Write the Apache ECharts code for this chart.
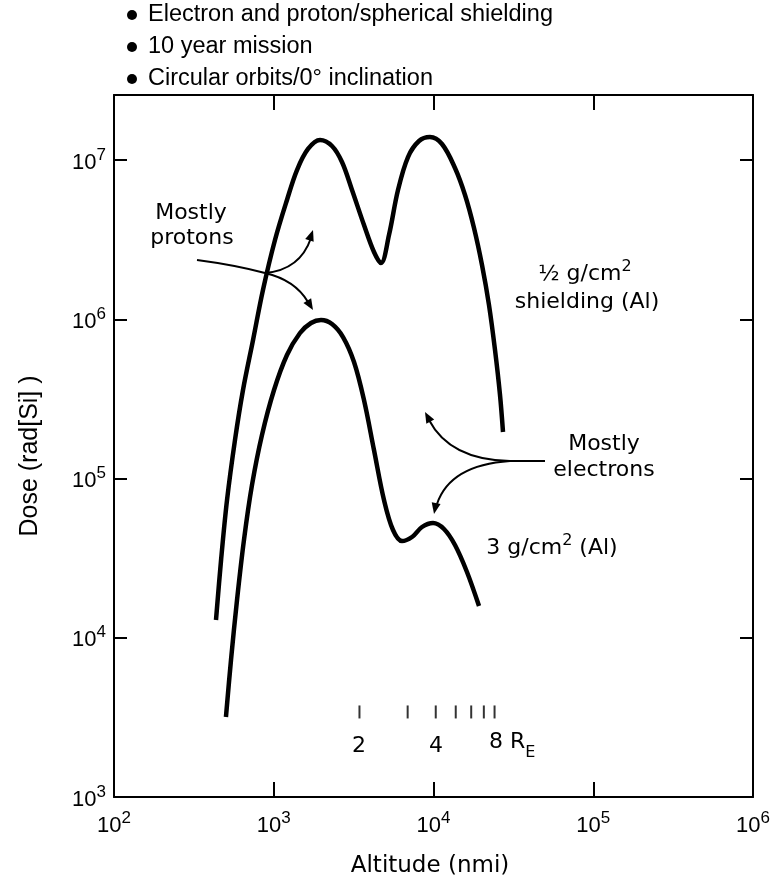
<!DOCTYPE html>
<html>
<head>
<meta charset="utf-8">
<script src="https://cdn.jsdelivr.net/npm/echarts@6/dist/echarts.min.js"></script>
<style>
html,body{margin:0;padding:0;background:#fff;}
#chart{width:777px;height:887px;}
</style>
</head>
<body>
<div id="chart"></div>
<script>
// ---- data (altitude in nmi, dose in rad[Si]) ----
const altUpper = [435, 468, 510, 572, 642, 742, 856, 1018, 1210, 1398, 1639, 1948, 2315, 2674, 3090, 3672, 4241, 4692, 5265, 5995, 6925, 8115, 9506, 11300, 13630, 15750, 17930, 20120, 22250, 24270, 26080, 27230];
const doseUpper = [12930, 30770, 73280, 174500, 359500, 740800, 1.527e6, 3.145e6, 5.61e6, 8.65e6, 1.173e7, 1.336e7, 1.224e7, 9.71e6, 6.48e6, 3.907e6, 2.645e6, 2.255e6, 3.38e6, 6.48e6, 1.044e7, 1.316e7, 1.394e7, 1.26e7, 8.91e6, 6.03e6, 3.74e6, 2.19e6, 1.229e6, 641000, 334500, 195900];
const altLower = [502, 540, 589, 651, 731, 844, 1004, 1210, 1460, 1711, 1976, 2315, 2714, 3180, 3672, 4241, 4899, 5579, 6350, 7336, 8472, 9930, 11630, 13630, 16200, 19270];
const doseLower = [3180, 7250, 17260, 41100, 91050, 187600, 359500, 596500, 819800, 947300, 989300, 933700, 773500, 539000, 311100, 151000, 73280, 47500, 40500, 42920, 49600, 52550, 48180, 38230, 25880, 15830];
// Earth-radii marker ticks (R_E = 2..8)
const reAlt = [3440, 6890, 10330, 13780, 17220, 20660, 24110];
const reTickDose = 3420;
const titleLines = ['Electron and proton/spherical shielding', '10 year mission', 'Circular orbits/0° inclination'];

const chart = echarts.init(document.getElementById('chart'));
const FONT = 'Liberation Sans';
const AFONT = 'DejaVu Sans';

function pow10Label(v) {
  const e = Math.log10(v);
  const r = Math.round(e);
  if (Math.abs(e - r) > 1e-6) return '';
  return '{b|10}{s|' + r + '}';
}
const richSup = {
  b: {fontSize: 22, fontFamily: FONT, color: '#000', lineHeight: 27, verticalAlign: 'bottom'},
  s: {fontSize: 17, fontFamily: FONT, color: '#000', lineHeight: 17, verticalAlign: 'top'}
};
const richSupA = {
  n: {fontSize: 22, fontFamily: AFONT, color: '#000', lineHeight: 26, verticalAlign: 'bottom'},
  s: {fontSize: 16, fontFamily: AFONT, color: '#000', lineHeight: 17, verticalAlign: 'top'}
};
const lineSt = {color: '#000', width: 2};

function arrowHead(x, y, dx, dy) {
  const L = Math.sqrt(dx*dx + dy*dy);
  const ux = dx / L, uy = dy / L;
  const len = 11, w = 4.5;
  const bx = x - ux*len, by = y - uy*len;
  return {
    type: 'polygon',
    shape: {points: [[x, y], [bx - uy*w, by + ux*w], [bx + uy*w, by - ux*w]]},
    style: {fill: '#000'}
  };
}
function curve(x1, y1, cx, cy, x2, y2) {
  return {type: 'bezierCurve', shape: {x1: x1, y1: y1, cpx1: cx, cpy1: cy, x2: x2, y2: y2},
    style: {stroke: '#000', lineWidth: 2, fill: null}};
}
function txt(x, y, text, opts) {
  return {type: 'text', x: x, y: y,
    style: Object.assign({text: text, fill: '#000', font: '22px "' + AFONT + '"', textAlign: 'center', textVerticalAlign: 'middle'}, opts || {})};
}

const graphics = [];
// title bullets
titleLines.forEach(function (t, i) {
  const cy = 15 + i * 32;
  graphics.push({type: 'circle', shape: {cx: 132, cy: cy, r: 5}, style: {fill: '#000'}});
  graphics.push({type: 'text', x: 148, y: cy, style: {text: t, fill: '#000', font: '23.5px "' + FONT + '"', textAlign: 'left', textVerticalAlign: 'middle'}});
});
// axis names
graphics.push(txt(430, 866, 'Altitude (nmi)', {font: '23px "' + AFONT + '"'}));
graphics.push({type: 'text', x: 30, y: 456, rotation: Math.PI / 2,
  style: {text: 'Dose (rad[Si] )', fill: '#000', font: '25px "' + FONT + '"', textAlign: 'center', textVerticalAlign: 'middle'}});
// annotations
graphics.push(txt(191, 213, 'Mostly'));
graphics.push(txt(192, 238, 'protons'));
graphics.push(curve(197, 260, 235, 265, 265, 273));
graphics.push(curve(265, 273, 300, 270, 311, 238));
graphics.push(arrowHead(313, 230, 13, -38));
graphics.push(curve(265, 273, 295, 280, 308, 302));
graphics.push(arrowHead(313, 310, 17, 28));

graphics.push({type: 'text', x: 585, y: 272, style: {
  text: '{n|½ g/cm}{s|2}', textAlign: 'center', textVerticalAlign: 'middle', rich: richSupA}});
graphics.push(txt(587, 302, 'shielding (Al)'));
graphics.push(txt(604, 444, 'Mostly'));
graphics.push(txt(604, 470, 'electrons'));
graphics.push(curve(545, 461, 525, 461, 510, 461));
graphics.push(curve(510, 461, 450, 460, 429, 420));
graphics.push(arrowHead(425, 412, -12, -22));
graphics.push(curve(510, 461, 450, 465, 437, 504));
graphics.push(arrowHead(434, 514, -4, 20));
graphics.push({type: 'text', x: 552, y: 546, style: {
  text: '{n|3 g/cm}{s|2}{n| (Al)}', textAlign: 'center', textVerticalAlign: 'middle', rich: richSupA}});
// R_E labels
graphics.push(txt(359, 746, '2'));
graphics.push(txt(436, 746, '4'));
graphics.push({type: 'text', x: 489, y: 746, style: {
  text: '{n|8 R}{u|E}', textAlign: 'left', textVerticalAlign: 'middle',
  rich: {n: {fontSize: 22, fontFamily: AFONT, lineHeight: 30, verticalAlign: 'top'},
         u: {fontSize: 16, fontFamily: AFONT, lineHeight: 15, verticalAlign: 'bottom'}}}});

function pairs(xs, ys) { return xs.map(function (x, i) { return [x, ys[i]]; }); }

const baseX = {
  type: 'log', logBase: 10, min: 100, max: 1000000, splitNumber: 4,
  axisLine: {show: true, lineStyle: lineSt},
  axisTick: {show: true, inside: true, length: 15, lineStyle: lineSt},
  splitLine: {show: false}, minorTick: {show: false}
};
const baseY = {
  type: 'log', logBase: 10, min: 1000, max: 25600000, splitNumber: 4,
  axisLine: {show: true, lineStyle: lineSt},
  axisTick: {show: true, inside: true, length: 13, lineStyle: lineSt},
  splitLine: {show: false}, minorTick: {show: false}
};

chart.setOption({
  animation: false,
  backgroundColor: '#fff',
  grid: {left: 114, right: 24, top: 95, bottom: 90, containLabel: false},
  xAxis: [
    Object.assign({}, baseX, {position: 'bottom',
      axisLabel: {show: true, margin: 13, fontSize: 22, fontFamily: FONT, formatter: pow10Label, rich: richSup, color: '#000'}}),
    Object.assign({}, baseX, {position: 'top', axisLabel: {show: false}})
  ],
  yAxis: [
    Object.assign({}, baseY, {position: 'left',
      axisLabel: {show: true, margin: 8, fontSize: 22, fontFamily: FONT, formatter: pow10Label, rich: richSup, color: '#000'}}),
    Object.assign({}, baseY, {position: 'right', axisLabel: {show: false}})
  ],
  series: [
    {type: 'line', name: '1/2 g/cm2', data: pairs(altUpper, doseUpper), smooth: 0.35, showSymbol: false,
      lineStyle: {color: '#000', width: 4.5}, xAxisIndex: 0, yAxisIndex: 0},
    {type: 'line', name: '3 g/cm2', data: pairs(altLower, doseLower), smooth: 0.35, showSymbol: false,
      lineStyle: {color: '#000', width: 4.5}, xAxisIndex: 0, yAxisIndex: 0},
    {type: 'scatter', name: 'RE', data: reAlt.map(function (a) { return [a, reTickDose]; }),
      symbol: 'rect', symbolSize: [2, 13], itemStyle: {color: '#000'}, xAxisIndex: 0, yAxisIndex: 0}
  ],
  graphic: graphics
});
</script>
</body>
</html>
